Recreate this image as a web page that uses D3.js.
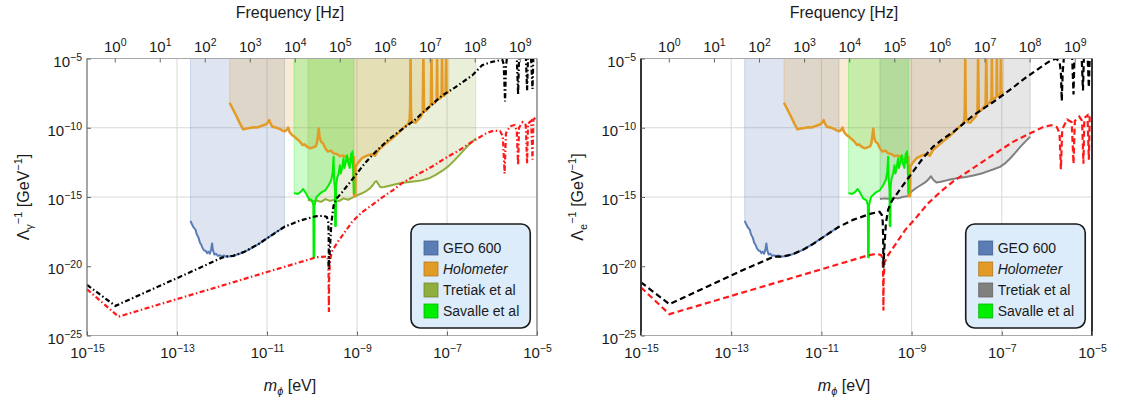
<!DOCTYPE html>
<html>
<head>
<meta charset="utf-8">
<script src="https://cdn.jsdelivr.net/npm/d3@7"></script>
<style>
  html, body { margin: 0; padding: 0; background: #fff; }
  svg { display: block; }
  text { font-family: "Liberation Sans", Arial, sans-serif; fill: #1a1a1a; }
</style>
</head>
<body>
<svg id="chart" width="1123" height="400"></svg>
<script>
// Planck constant in eV s, used for the frequency axis f = m / h
const H_EV_S = 4.135667696e-15;

// Axis ticks (log10 exponents)
const massTicks = [-15, -13, -11, -9, -7, -5];
const couplingTicks = [-5, -10, -15, -20, -25];
const freqTicks = [0, 1, 2, 3, 4, 5, 6, 7, 8, 9];
const massGrid = [-13, -11, -9, -7];
const couplingGrid = [-10, -15];

const legendNames = ["GEO 600", "Holometer", "Tretiak et al", "Savalle et al"];

// All series are [log10(m_phi / eV), log10(Lambda^-1 / GeV^-1)]
const geo600 = [
  [-12.70,-16.72],[-12.67,-16.95],[-12.63,-17.2],[-12.59,-17.35],[-12.56,-17.7],[-12.52,-17.95],
  [-12.49,-18.3],[-12.46,-18.45],[-12.43,-18.7],[-12.40,-18.85],[-12.36,-18.9],[-12.33,-19.05],
  [-12.30,-18.95],[-12.27,-19.1],[-12.24,-18.75],[-12.22,-18.35],[-12.20,-18.85],[-12.17,-19.15],
  [-12.13,-19.1],[-12.09,-19.25],[-12.05,-19.2],[-12.01,-19.3],[-11.96,-19.22],[-11.92,-19.3],
  [-11.85,-19.3],[-11.75,-19.25],[-11.63,-19.12],[-11.50,-18.95],[-11.40,-18.8],[-11.30,-18.6],
  [-11.19,-18.4],[-11.08,-18.15],[-10.96,-17.9],[-10.85,-17.65],[-10.74,-17.42],[-10.61,-17.15]
];

const holometer = [
  [-11.83,-8.19],[-11.76,-8.65],[-11.68,-9.15],[-11.60,-9.7],[-11.53,-10.12],[-11.45,-10.05],
  [-11.38,-10.02],[-11.30,-9.97],[-11.22,-9.98],[-11.15,-9.9],[-11.08,-9.82],[-11.02,-9.75],
  [-10.98,-9.62],[-10.95,-9.45],[-10.92,-9.7],[-10.88,-9.93],[-10.80,-9.98],[-10.72,-10.08],
  [-10.65,-10.22],[-10.60,-10.25],[-10.56,-10.15],[-10.53,-9.98],[-10.50,-10.3],[-10.45,-10.5],
  [-10.39,-10.64],[-10.34,-10.8],[-10.28,-10.95],[-10.21,-11.24],[-10.16,-11.2],[-10.12,-11.35],
  [-10.05,-11.48],[-9.98,-11.42],[-9.92,-11.35],[-9.89,-11.1],[-9.87,-10.6],[-9.85,-10.05],
  [-9.83,-10.7],[-9.80,-11.0],[-9.75,-11.15],[-9.70,-11.5],[-9.65,-11.72],[-9.58,-11.65],
  [-9.52,-11.85],[-9.45,-11.9],[-9.38,-12.05],[-9.30,-12.0],[-9.22,-12.2],[-9.15,-12.28],
  [-9.10,-12.15],[-9.07,-12.1],[-9.065,-14.95],[-9.035,-14.95],[-9.03,-12.8],[-8.97,-12.5],
  [-8.89,-12.2],[-8.80,-12.05],[-8.72,-11.95],[-8.65,-11.92],[-8.60,-12.02],[-8.52,-11.6],
  [-8.45,-11.4],[-8.38,-11.2],[-8.30,-10.98],[-8.22,-10.78],[-8.14,-10.55],[-8.07,-10.35],
  [-8.0,-10.12],[-7.93,-9.9],[-7.86,-9.7],[-7.83,-9.4],[-7.82,-8.5],[-7.81,-4.5],[-7.80,-8.6],
  [-7.79,-9.4],[-7.75,-9.6],[-7.70,-9.63],[-7.64,-9.4],[-7.58,-9.2],[-7.54,-8.9],[-7.525,-4.5],
  [-7.51,-8.8],[-7.46,-8.75],[-7.41,-8.55],[-7.36,-8.35],[-7.345,-4.5],[-7.33,-8.3],[-7.27,-8.2],
  [-7.23,-7.95],[-7.22,-4.5],[-7.21,-7.95],[-7.16,-7.9],[-7.12,-7.75],[-7.11,-4.5],[-7.10,-7.7],
  [-7.06,-7.68],[-7.03,-7.5],[-7.02,-4.5],[-7.01,-7.5],[-6.96,-7.44]
];

const savalle = [
  [-10.40,-14.72],[-10.36,-14.75],[-10.32,-14.78],[-10.28,-14.7],[-10.24,-14.6],[-10.20,-14.42],
  [-10.17,-14.55],[-10.14,-14.7],[-10.10,-14.95],[-10.07,-15.12],[-10.03,-15.18],[-10.0,-15.25],
  [-9.97,-15.6],[-9.965,-19.35],[-9.95,-19.35],[-9.945,-15.6],[-9.90,-15.0],[-9.86,-14.88],
  [-9.82,-14.75],[-9.78,-14.65],[-9.74,-14.58],[-9.70,-14.5],[-9.66,-14.3],[-9.63,-14.15],
  [-9.60,-13.95],[-9.57,-13.75],[-9.54,-13.2],[-9.52,-12.1],[-9.51,-13.6],[-9.49,-14.5],
  [-9.485,-17.1],[-9.47,-17.1],[-9.465,-14.2],[-9.44,-13.6],[-9.41,-13.35],[-9.38,-12.7],
  [-9.36,-13.3],[-9.33,-12.9],[-9.30,-12.2],[-9.28,-12.9],[-9.25,-12.5],[-9.22,-11.98],
  [-9.19,-12.6],[-9.16,-12.9],[-9.13,-11.86],[-9.11,-12.5],[-9.10,-11.7],[-9.08,-13.5],[-9.07,-14.77]
];

const tretiakPhoton = [
  [-10.09,-15.2],[-10.0,-15.3],[-9.9,-15.25],[-9.8,-15.35],[-9.7,-15.15],[-9.6,-15.28],
  [-9.5,-15.2],[-9.4,-15.3],[-9.3,-15.1],[-9.2,-15.2],[-9.1,-15.05],[-9.0,-14.88],
  [-8.9,-14.75],[-8.81,-14.6],[-8.72,-14.4],[-8.65,-14.15],[-8.60,-13.9],[-8.57,-13.85],
  [-8.53,-14.05],[-8.48,-14.3],[-8.40,-14.28],[-8.30,-14.2],[-8.1,-14.05],[-7.93,-13.95],
  [-7.75,-13.88],[-7.56,-13.8],[-7.40,-13.65],[-7.26,-13.42],[-7.10,-13.1],[-6.96,-12.75],
  [-6.82,-12.3],[-6.67,-11.78],[-6.52,-11.25],[-6.36,-10.8]
];

const tretiakElectron = [
  [-9.70,-15.15],[-9.6,-15.1],[-9.5,-15.12],[-9.4,-15.05],[-9.3,-15.1],[-9.2,-15.0],
  [-9.1,-14.95],[-9.0,-14.6],[-8.9,-14.35],[-8.8,-14.15],[-8.7,-13.95],[-8.62,-13.7],
  [-8.57,-13.5],[-8.52,-13.75],[-8.45,-13.95],[-8.35,-13.9],[-8.2,-13.78],[-8.0,-13.65],
  [-7.8,-13.55],[-7.63,-13.45],[-7.45,-13.3],[-7.33,-13.17],[-7.18,-13.0],[-7.04,-12.82],
  [-6.92,-12.55],[-6.81,-12.2],[-6.70,-11.8],[-6.59,-11.38],[-6.48,-11.0],[-6.37,-10.65]
];

// Projected sensitivities, photon coupling
const photonBlack = [
  [-15,-21.34],[-14.37,-22.86],[-13.5,-21.59],[-12.7,-20.42],[-12.05,-19.45],[-11.93,-19.3],
  [-11.75,-19.25],[-11.5,-18.95],[-11.19,-18.4],[-10.96,-17.9],[-10.74,-17.42],[-10.61,-17.15],
  [-10.30,-16.74],[-9.93,-16.40],[-9.74,-16.35],[-9.67,-16.45],[-9.64,-16.8],[-9.63,-17.5],
  [-9.625,-20.2],[-9.60,-18.6],[-9.57,-16.9],[-9.52,-15.6],[-9.45,-15.1],[-9.33,-14.65],
  [-9.05,-13.5],[-8.81,-12.5],[-8.59,-11.75],[-8.30,-10.85],[-8.0,-10.12],[-7.70,-9.39],
  [-7.41,-8.54],[-7.11,-7.68],[-6.81,-7.07],[-6.44,-6.22],[-6.22,-5.49],[-6.0,-5.24],
  [-5.81,-5.12],[-5.77,-5.1],[-5.74,-5.4],[-5.71,-8.1],[-5.69,-5.6],[-5.66,-4.7],[-5.5,-4.3],
  [-5.45,-4.8],[-5.42,-7.6],[-5.40,-5.0],[-5.36,-4.5],[-5.25,-4.7],[-5.22,-7.3],[-5.20,-4.9],
  [-5.14,-4.5],[-5.10,-7.2],[-5.08,-4.8],[-5.0,-4.5]
];

const photonRed = [
  [-15,-21.66],[-14.30,-23.64],[-13.0,-22.37],[-12.0,-21.4],[-11.0,-20.42],[-10.30,-19.74],
  [-9.90,-19.35],[-9.66,-19.3],[-9.64,-19.6],[-9.63,-21.0],[-9.625,-23.3],[-9.62,-21.0],
  [-9.60,-19.6],[-9.56,-18.95],[-9.45,-18.35],[-9.33,-17.8],[-9.11,-16.8],[-8.89,-16.1],
  [-8.78,-15.85],[-8.47,-15.1],[-8.2,-14.5],[-8.0,-14.0],[-7.67,-13.4],[-7.33,-12.8],
  [-7.04,-12.2],[-6.74,-11.65],[-6.44,-11.0],[-6.11,-10.37],[-5.95,-10.2],[-5.82,-10.25],
  [-5.76,-10.6],[-5.72,-13.3],[-5.69,-10.4],[-5.6,-9.9],[-5.5,-9.8],[-5.45,-10.2],[-5.42,-12.7],
  [-5.40,-10.0],[-5.32,-9.6],[-5.25,-9.8],[-5.22,-12.6],[-5.20,-9.7],[-5.13,-9.5],[-5.10,-12.3],
  [-5.08,-9.4],[-5.0,-9.2]
];

// Projected sensitivities, electron coupling
const electronBlack = [
  [-15,-21.16],[-14.37,-22.74],[-13.5,-21.43],[-12.7,-20.22],[-12.05,-19.3],[-11.85,-19.3],
  [-11.63,-19.12],[-11.4,-18.8],[-11.19,-18.4],[-10.96,-17.9],[-10.74,-17.42],[-10.61,-17.15],
  [-10.3,-16.65],[-9.90,-16.2],[-9.71,-16.07],[-9.66,-16.3],[-9.64,-16.8],[-9.63,-18.0],
  [-9.625,-20.1],[-9.60,-18.5],[-9.57,-16.9],[-9.52,-15.9],[-9.44,-15.29],[-9.2,-14.2],
  [-8.96,-13.13],[-8.75,-12.2],[-8.52,-11.36],[-8.30,-10.8],[-8.07,-10.29],[-7.85,-9.7],
  [-7.63,-9.1],[-7.40,-8.6],[-7.19,-8.14],[-6.96,-7.6],[-6.74,-7.07],[-6.52,-6.5],[-6.30,-6.0],
  [-6.10,-5.55],[-5.93,-5.17],[-5.80,-5.02],[-5.72,-5.2],[-5.69,-6.0],[-5.67,-8.06],[-5.65,-6.0],
  [-5.62,-4.8],[-5.50,-4.4],[-5.44,-4.9],[-5.41,-7.6],[-5.39,-5.0],[-5.30,-4.5],[-5.23,-4.8],
  [-5.20,-7.3],[-5.18,-4.9],[-5.10,-4.6],[-5.07,-7.1],[-5.05,-4.8],[-5.0,-4.6]
];

const electronRed = [
  [-15,-21.53],[-14.37,-23.46],[-13.0,-22.14],[-12.0,-21.18],[-11.0,-20.22],[-9.98,-19.23],
  [-9.78,-19.1],[-9.67,-19.2],[-9.64,-19.6],[-9.63,-21.0],[-9.625,-23.2],[-9.62,-21.0],
  [-9.60,-19.7],[-9.58,-19.6],[-9.54,-19.3],[-9.45,-18.85],[-9.34,-18.34],[-9.14,-17.37],
  [-8.94,-16.65],[-8.63,-15.44],[-8.35,-14.6],[-8.07,-13.86],[-7.63,-12.9],[-7.19,-11.95],
  [-6.74,-11.0],[-6.37,-10.4],[-6.07,-9.93],[-5.90,-9.82],[-5.78,-9.95],[-5.72,-10.4],
  [-5.69,-13.0],[-5.66,-10.1],[-5.55,-9.4],[-5.45,-9.6],[-5.41,-12.6],[-5.38,-9.5],[-5.28,-9.2],
  [-5.22,-9.5],[-5.19,-12.6],[-5.17,-9.3],[-5.10,-9.1],[-5.07,-12.3],[-5.05,-9.2],[-5.0,-9.0]
];

const COLORS = {
  geo: "#5b7db6",
  holo: "#e39b27",
  tretiakPhoton: "#8fae3b",
  tretiakElectron: "#808080",
  savalle: "#00ee00",
  black: "#000000",
  red: "#ff1a1a"
};

const Y0 = 58.5, Y1 = 335.5;
const svg = d3.select("#chart");

function expLabels(axisG, supSize, supShift) {
  axisG.selectAll(".tick text").each(function (d) {
    const e = Math.round(Math.log10(d));
    const t = d3.select(this);
    t.text(null);
    t.append("tspan").text("10");
    t.append("tspan")
      .attr("dy", supShift)
      .attr("font-size", supSize)
      .text(e < 0 ? "\u2212" + Math.abs(e) : String(e));
  });
}

function drawPanel(cfg) {
  const x = d3.scaleLog().domain([1e-15, 1e-5]).range([cfg.x0, cfg.x1]);
  const y = d3.scaleLog().domain([1e-25, 1e-5]).range([Y1, Y0]);
  const fx = d3.scaleLog().domain([1e-15 / H_EV_S, 1e-5 / H_EV_S]).range([cfg.x0, cfg.x1]);
  const px = d => x(Math.pow(10, d[0]));
  const py = d => y(Math.pow(10, d[1]));

  const clipId = "clip-" + cfg.id;
  svg.append("clipPath").attr("id", clipId).append("rect")
    .attr("x", cfg.x0).attr("y", Y0)
    .attr("width", cfg.x1 - cfg.x0).attr("height", Y1 - Y0);

  const plot = svg.append("g").attr("clip-path", `url(#${clipId})`);

  // grid lines
  plot.selectAll(".vgrid").data(massGrid).join("line")
    .attr("x1", e => x(Math.pow(10, e))).attr("x2", e => x(Math.pow(10, e)))
    .attr("y1", Y0).attr("y2", Y1)
    .attr("stroke", "#d8d8d8").attr("stroke-width", 1);
  plot.selectAll(".hgrid").data(couplingGrid).join("line")
    .attr("y1", e => y(Math.pow(10, e))).attr("y2", e => y(Math.pow(10, e)))
    .attr("x1", cfg.x0).attr("x2", cfg.x1)
    .attr("stroke", "#d8d8d8").attr("stroke-width", 1);

  // excluded regions: from the top of the frame down to each bound
  const area = d3.area().x(px).y0(Y0).y1(py);
  const regions = [
    { data: geo600, color: COLORS.geo },
    { data: holometer, color: COLORS.holo },
    { data: cfg.tretiak, color: cfg.tretiakColor },
    { data: savalle, color: COLORS.savalle }
  ];
  regions.forEach(r => {
    plot.append("path").attr("d", area(r.data))
      .attr("fill", r.color).attr("fill-opacity", 0.2)
      .attr("stroke", r.color).attr("stroke-opacity", 0.25).attr("stroke-width", 1);
  });

  const line = d3.line().x(px).y(py);
  const bounds = [
    { data: geo600, color: COLORS.geo, w: 2 },
    { data: cfg.tretiak, color: cfg.tretiakColor, w: 2 },
    { data: holometer, color: COLORS.holo, w: 2.5 },
    { data: savalle, color: COLORS.savalle, w: 2 }
  ];
  bounds.forEach(b => {
    plot.append("path").attr("d", line(b.data))
      .attr("fill", "none").attr("stroke", b.color)
      .attr("stroke-width", b.w).attr("stroke-linejoin", "round");
  });

  // projected sensitivities
  [{ data: cfg.red, color: COLORS.red }, { data: cfg.black, color: COLORS.black }].forEach(s => {
    plot.append("path").attr("d", line(s.data))
      .attr("fill", "none").attr("stroke", s.color)
      .attr("stroke-width", 2.2)
      .attr("stroke-dasharray", cfg.dash);
  });

  // frame
  const frame = svg.append("g");
  frame.append("line").attr("x1", cfg.x0).attr("x2", cfg.x1).attr("y1", Y0).attr("y2", Y0)
    .attr("stroke", "#a8a8a8").attr("stroke-width", 1.2);
  frame.append("line").attr("x1", cfg.x0).attr("x2", cfg.x1).attr("y1", Y1).attr("y2", Y1)
    .attr("stroke", "#a8a8a8").attr("stroke-width", 1.2);
  frame.append("line").attr("x1", cfg.x0).attr("x2", cfg.x0).attr("y1", Y0).attr("y2", Y1)
    .attr("stroke", cfg.sideColor).attr("stroke-width", cfg.sideWidth);
  frame.append("line").attr("x1", cfg.x1).attr("x2", cfg.x1).attr("y1", Y0).attr("y2", Y1)
    .attr("stroke", cfg.sideColor).attr("stroke-width", cfg.sideWidth);

  // bottom axis: mass
  const gb = svg.append("g").attr("transform", `translate(0,${Y1})`)
    .call(d3.axisBottom(x).tickValues(massTicks.map(e => Math.pow(10, e)))
      .tickSizeInner(-4).tickSizeOuter(0).tickPadding(0));
  gb.select(".domain").remove();
  gb.selectAll(".tick line").attr("stroke", "#666");
  gb.selectAll(".tick text").attr("y", 22).attr("dy", 0);
  gb.attr("font-size", 15).attr("font-family", null);
  expLabels(gb, 10.5, "-0.55em");

  // left axis: coupling
  const gl = svg.append("g").attr("transform", `translate(${cfg.x0},0)`)
    .call(d3.axisLeft(y).tickValues(couplingTicks.map(e => Math.pow(10, e)))
      .tickSizeInner(-4).tickSizeOuter(0).tickPadding(0));
  gl.select(".domain").remove();
  gl.selectAll(".tick line").attr("stroke", "#666");
  gl.selectAll(".tick text").attr("x", -5).attr("dy", "0.5em");
  gl.attr("font-size", 15).attr("font-family", null);
  expLabels(gl, 10.5, "-0.55em");

  // top axis: frequency
  const gt = svg.append("g").attr("transform", `translate(0,${Y0})`)
    .call(d3.axisTop(fx).tickValues(freqTicks.map(e => Math.pow(10, e)))
      .tickSizeInner(-4).tickSizeOuter(0).tickPadding(0));
  gt.select(".domain").remove();
  gt.selectAll(".tick line").attr("stroke", "#666");
  gt.selectAll(".tick text").attr("y", -7).attr("dy", 0);
  gt.attr("font-size", 15).attr("font-family", null);
  expLabels(gt, 10.5, "-0.55em");

  // axis titles are centred on the whole panel graphic, tick labels included
  const cx = cfg.x0 + 203;
  svg.append("text").attr("x", cx).attr("y", 18).attr("text-anchor", "middle")
    .attr("font-size", 16).text("Frequency [Hz]");

  const xt = svg.append("text").attr("x", cx).attr("y", 391).attr("text-anchor", "middle")
    .attr("font-size", 16);
  xt.append("tspan").attr("font-style", "italic").text("m");
  xt.append("tspan").attr("font-style", "italic").attr("font-size", 11).attr("dy", 4).text("\u03d5");
  xt.append("tspan").attr("dy", -4).text(" [eV]");

  const yt = svg.append("text")
    .attr("transform", `translate(${cfg.x0 - 58},${(Y0 + Y1) / 2}) rotate(-90)`)
    .attr("text-anchor", "middle").attr("font-size", 16);
  yt.append("tspan").text("\u039b");
  yt.append("tspan").attr("font-size", 11).attr("dy", 4).text(cfg.sub);
  yt.append("tspan").attr("font-size", 11).attr("dy", -11).text("\u22121");
  yt.append("tspan").attr("dy", 7).text(" [GeV");
  yt.append("tspan").attr("font-size", 11).attr("dy", -7).text("\u22121");
  yt.append("tspan").attr("dy", 7).text("]");

  // legend
  const W = cfg.x1 - cfg.x0;
  const lx = cfg.x0 + 0.72 * W, lw = 0.265 * W, ly = 224, lh = 104;
  const lg = svg.append("g");
  lg.append("rect").attr("x", lx).attr("y", ly).attr("width", lw).attr("height", lh)
    .attr("rx", 9).attr("ry", 9)
    .attr("fill", "#ddecfb").attr("stroke", "#1a1a1a").attr("stroke-width", 1.6);
  const swatchColors = [COLORS.geo, COLORS.holo, cfg.tretiakColor, COLORS.savalle];
  legendNames.forEach((name, i) => {
    const cy = ly + 24 + i * 21;
    lg.append("rect").attr("x", lx + 13).attr("y", cy - 7).attr("width", 14).attr("height", 14)
      .attr("fill", swatchColors[i])
      .attr("stroke", d3.color(swatchColors[i]).darker(0.7)).attr("stroke-width", 0.8);
    lg.append("text").attr("x", lx + 32).attr("y", cy + 5).attr("font-size", 14)
      .attr("font-style", i === 1 ? "italic" : "normal").text(name);
  });
}

drawPanel({
  id: "photon", x0: 87, x1: 537,
  tretiak: tretiakPhoton, tretiakColor: COLORS.tretiakPhoton,
  black: photonBlack, red: photonRed,
  dash: "5,2.5,1.5,2.5", sub: "\u03b3",
  sideColor: "#6a6a6a", sideWidth: 1.2
});

drawPanel({
  id: "electron", x0: 641, x1: 1092,
  tretiak: tretiakElectron, tretiakColor: COLORS.tretiakElectron,
  black: electronBlack, red: electronRed,
  dash: "6,3.5", sub: "e",
  sideColor: "#333", sideWidth: 2
});
</script>
</body>
</html>
